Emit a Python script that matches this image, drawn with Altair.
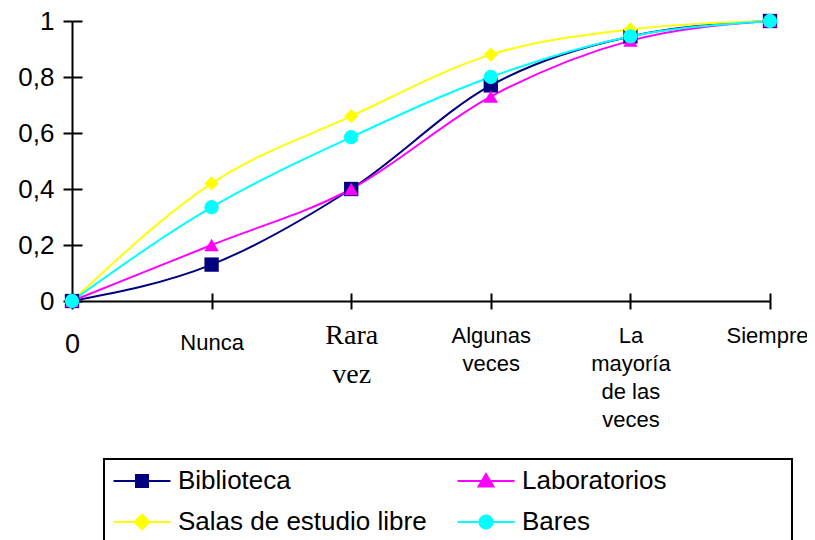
import json
import altair as alt
import pandas as pd

# ---- data ----
categories = ["0", "Nunca", "Rara vez", "Algunas veces", "La mayoría de las veces", "Siempre"]
category_lines = [["0"], ["Nunca"], ["Rara", "vez"], ["Algunas", "veces"],
                  ["La", "mayoría", "de las", "veces"], ["Siempre"]]
series_names = ["Biblioteca", "Laboratorios", "Salas de estudio libre", "Bares"]
biblioteca = [0, 0.13, 0.40, 0.77, 0.945, 1.0]
laboratorios = [0, 0.20, 0.40, 0.73, 0.93, 1.0]
salas = [0, 0.42, 0.66, 0.88, 0.97, 1.0]
bares = [0, 0.335, 0.585, 0.80, 0.945, 1.0]
y_ticks = [0, 0.2, 0.4, 0.6, 0.8, 1.0]

colors = ["#000080", "#FF00FF", "#FFFF00", "#00FFFF"]
marker_shapes = ["square", "triangle-up", "diamond", "circle"]
# legend symbols: a line with the marker in its middle (unit = 12 px)
legend_paths = [
    "M-2.375,0H2.375M-0.5,-0.5H0.5V0.5H-0.5Z",
    "M-2.375,0H2.375M0,-0.58L0.62,0.46H-0.62Z",
    "M-2.375,0H2.375M0,-0.62L0.62,0L0,0.62L-0.62,0Z",
    "M-2.375,0H2.375M-0.55,0A0.55,0.55,0,1,1,0.55,0A0.55,0.55,0,1,1,-0.55,0Z",
]

values_by_series = [biblioteca, laboratorios, salas, bares]
rows = []
for name, vals in zip(series_names, values_by_series):
    for cat, v in zip(categories, vals):
        rows.append({"categoria": cat, "valor": v, "serie": name})
df = pd.DataFrame(rows)

# ---- axis label expression ----
expr = "datum.value"
for cat, lines in zip(categories, category_lines):
    if len(lines) > 1:
        expr = f"datum.value === {json.dumps(cat, ensure_ascii=False)} ? {json.dumps(lines, ensure_ascii=False)} : ({expr})"

x_scale = alt.Scale(domain=categories, padding=0)
y_scale = alt.Scale(domain=[0, 1], nice=False)

x_axis = alt.Axis(
    title=None, labelAngle=0, grid=False,
    domainColor="black", domainWidth=2,
    tickColor="black", tickWidth=2, tickSize=8,
    labelExpr=expr, labelColor="black", labelBaseline="top", labelAlign="center",
    labelOverlap=False, labelLimit=0,
    labelFont={"condition": {"test": "datum.value === 'Rara vez'", "value": "Liberation Serif"},
               "value": "Liberation Sans"},
    labelFontSize={"condition": [{"test": "datum.value === '0'", "value": 27},
                                 {"test": "datum.value === 'Rara vez'", "value": 28}],
                   "value": 22},
    labelPadding={"condition": [{"test": "datum.value === '0'", "value": 22},
                                {"test": "datum.value === 'Nunca'", "value": 23},
                                {"test": "datum.value === 'Rara vez'", "value": 12}],
                  "value": 16},
    labelOffset={"condition": {"test": "datum.value === 'Siempre'", "value": -3}, "value": 0},
    labelLineHeight={"expr": "datum.value === 'Rara vez' ? 39 : 28"},
)
y_axis = alt.Axis(
    title=None, grid=False, values=y_ticks,
    labelExpr="replace(format(datum.value, '~g'), '.', ',')",
    labelFont="Liberation Sans", labelFontSize=26, labelColor="black", labelPadding=9,
    domainColor="black", domainWidth=2, tickColor="black", tickWidth=2, tickSize=9,
    labelOverlap=False,
)
x_axis_inner = alt.Axis(orient="top", offset=-280, labels=False, domain=False, title=None,
                        grid=False, tickColor="black", tickWidth=2, tickSize=8)
y_axis_inner = alt.Axis(orient="right", offset=-698, labels=False, domain=False, title=None,
                        grid=False, values=y_ticks, tickColor="black", tickWidth=2, tickSize=10)

color_scale = alt.Scale(domain=series_names, range=colors)

lines = alt.Chart(df).mark_line(strokeWidth=2, interpolate="monotone").encode(
    x=alt.X("categoria:N", sort=categories, scale=x_scale, axis=x_axis),
    y=alt.Y("valor:Q", scale=y_scale, axis=y_axis),
    color=alt.Color("serie:N", scale=color_scale, legend=None),
)

point_layers = []
for name, col, shp in zip(series_names, colors, marker_shapes):
    point_layers.append(
        alt.Chart(df).transform_filter(alt.datum.serie == name)
        .mark_point(shape=shp, filled=True, size=205, opacity=1, color=col)
        .encode(
            x=alt.X("categoria:N", sort=categories, scale=x_scale, axis=None),
            y=alt.Y("valor:Q", scale=y_scale, axis=None),
        )
    )

# invisible padding (no-break spaces closed by a zero-width space so it is not trimmed)
# widens the legend frame to the reference's width
pad_spaces = "\u00a0" * 16 + "\u200b"
legend_label_expr = f"datum.label === 'Laboratorios' ? datum.label + '{pad_spaces}' : datum.label"

leg = alt.Legend(
    title=None, orient="none", legendX=32, legendY=438, columns=2, direction="horizontal",
    gridAlign="each", columnPadding=26, rowPadding=15, padding=9, strokeColor="black",
    labelFont="Liberation Sans", labelFontSize=26, labelColor="black",
    symbolOffset=16, labelOffset=23, labelExpr=legend_label_expr,
    labelLimit=600, symbolSize=576, symbolStrokeWidth=2, symbolOpacity=1,
)

legend_layer = (
    alt.Chart(df)
    .mark_point(filled=True, opacity=0, size=576, strokeWidth=2)
    .encode(
        x=alt.X("categoria:N", sort=categories, scale=x_scale, axis=x_axis_inner),
        y=alt.Y("valor:Q", scale=y_scale, axis=y_axis_inner),
        fill=alt.Fill("serie:N", scale=alt.Scale(domain=series_names, range=colors), legend=leg),
        stroke=alt.Stroke("serie:N", scale=alt.Scale(domain=series_names, range=colors), legend=leg),
        shape=alt.Shape("serie:N", scale=alt.Scale(domain=series_names, range=legend_paths), legend=leg),
    )
)

chart = (
    alt.layer(legend_layer, lines, *point_layers)
    .resolve_axis(x="independent", y="independent")
    .properties(width=698, height=280, autosize="none",
                padding={"left": 64, "top": 13, "right": 37, "bottom": 239})
    .configure_view(stroke=None)
    .configure_legend(strokeWidth=2)
)

chart.save("out.html", embed_options={"renderer": "svg", "actions": False})
